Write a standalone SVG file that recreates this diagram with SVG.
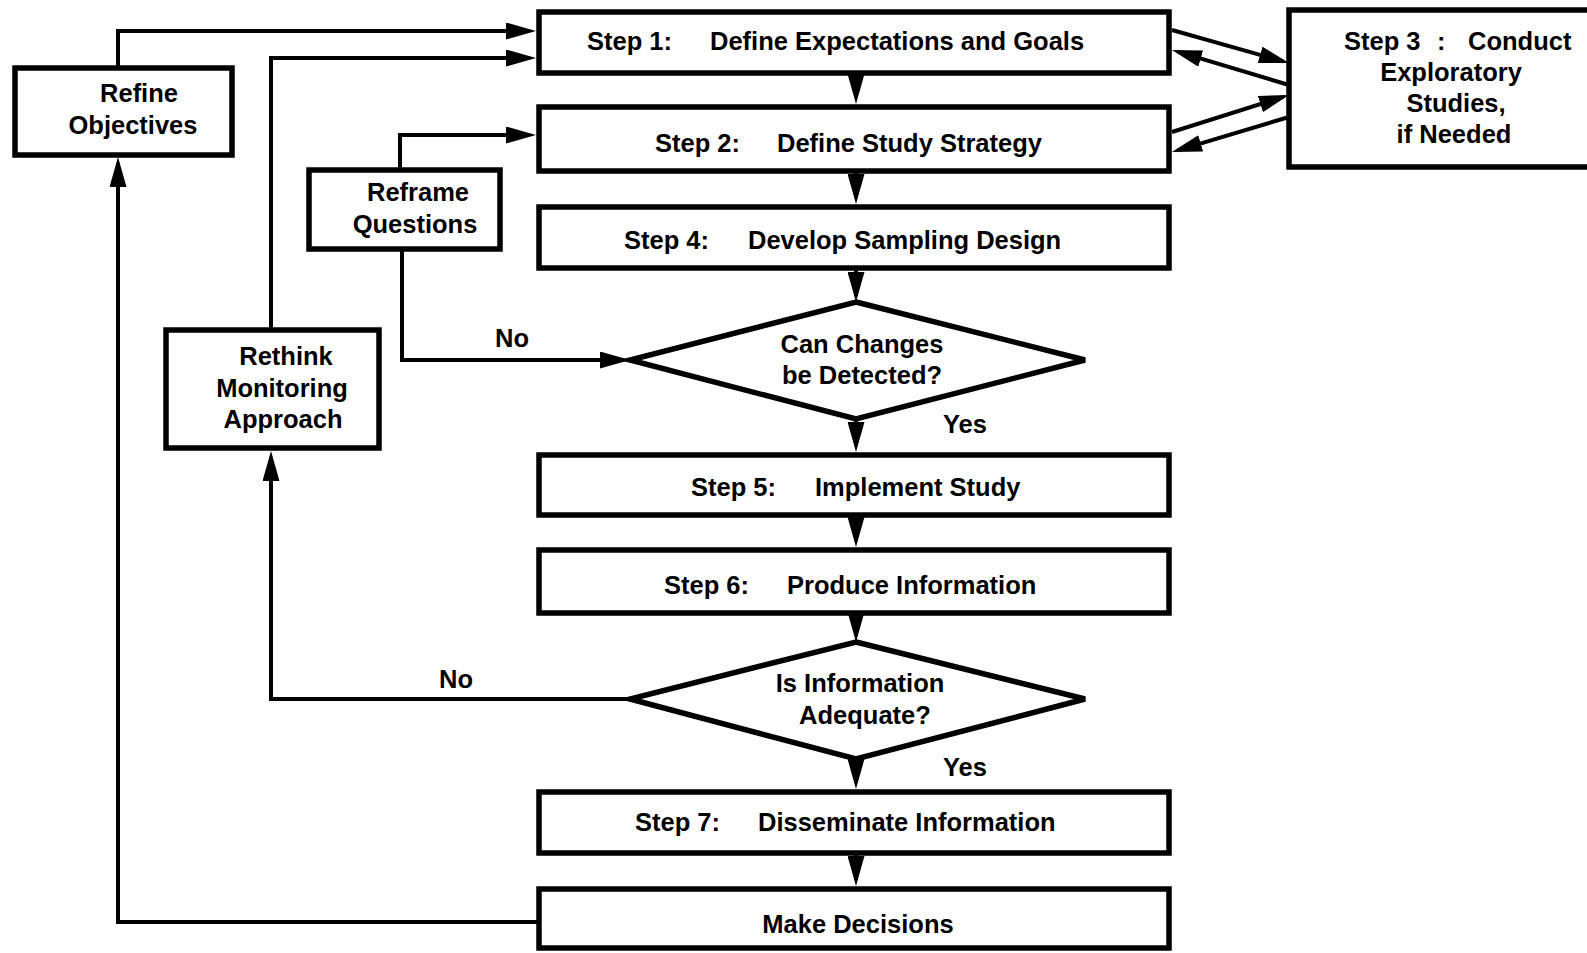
<svg xmlns="http://www.w3.org/2000/svg" width="1587" height="953" viewBox="0 0 1587 953">
<style>
.box{fill:#fff;stroke:#000;stroke-width:5.5}
.ln{fill:none;stroke:#000;stroke-width:4;marker-end:url(#ah)}
text{font-family:"Liberation Sans",Arial,sans-serif;font-weight:bold;font-size:25.5px;fill:#000}
.c{text-anchor:middle}
</style>
<defs>
<marker id="ah" markerUnits="userSpaceOnUse" markerWidth="30" markerHeight="17" viewBox="0 0 30 17" refX="24" refY="8.5" orient="auto">
<path d="M0,0 L30,8.5 L0,17 z" fill="#000"/>
</marker>
</defs>
<rect width="1587" height="953" fill="#fff"/>
<g id="connectors">
<path class="ln" d="M118,68 V31 H530"/>
<path class="ln" d="M271,328 V58 H530"/>
<path class="ln" d="M400,168 V135 H530"/>
<path class="ln" d="M402,250 V360 H624"/>
<path class="ln" d="M630,699 H271 V457"/>
<path class="ln" d="M538,922 H118 V163"/>
<path class="ln" d="M856,73 V98"/>
<path class="ln" d="M856,171 V198"/>
<path class="ln" d="M856,268 V296"/>
<path class="ln" d="M856,419 V446"/>
<path class="ln" d="M856,515 V541"/>
<path class="ln" d="M856,613 V636"/>
<path class="ln" d="M856,759 V783"/>
<path class="ln" d="M856,853 V880"/>
<path class="ln" d="M1172,30 L1283.2,61.4"/>
<path class="ln" d="M1289,85 L1177.7,51.7"/>
<path class="ln" d="M1172,132 L1283.3,96.8"/>
<path class="ln" d="M1289,117 L1177.7,150.3"/>
</g>
<g id="step1">
<rect class="box" x="539" y="12" width="630" height="61"/>
<text x="587" y="50">Step 1:</text>
<text x="710" y="50">Define Expectations and Goals</text>
</g>
<g id="step2">
<rect class="box" x="539" y="107" width="630" height="64"/>
<text x="655" y="152">Step 2:</text>
<text x="777" y="152">Define Study Strategy</text>
</g>
<g id="step3">
<rect class="box" x="1289" y="10" width="320" height="157"/>
<text x="1344" y="50">Step 3</text>
<text x="1437" y="50">:</text>
<text x="1468" y="50">Conduct</text>
<text class="c" x="1451" y="81">Exploratory</text>
<text class="c" x="1456" y="112">Studies,</text>
<text class="c" x="1454" y="143">if Needed</text>
</g>
<g id="step4">
<rect class="box" x="539" y="207" width="630" height="61"/>
<text x="624" y="249">Step 4:</text>
<text x="748" y="249">Develop Sampling Design</text>
</g>
<g id="decision1">
<polygon class="box" points="856,302 1085,360 856,419 630,360"/>
<text class="c" x="862" y="353">Can Changes</text>
<text class="c" x="862" y="384">be Detected?</text>
</g>
<g id="step5">
<rect class="box" x="539" y="455" width="630" height="60"/>
<text x="691" y="496">Step 5:</text>
<text x="815" y="496">Implement Study</text>
</g>
<g id="step6">
<rect class="box" x="539" y="550" width="630" height="63"/>
<text x="664" y="594">Step 6:</text>
<text x="787" y="594">Produce Information</text>
</g>
<g id="decision2">
<polygon class="box" points="856,642 1085,699 856,759 630,699"/>
<text class="c" x="860" y="692">Is Information</text>
<text class="c" x="865" y="724">Adequate?</text>
</g>
<g id="step7">
<rect class="box" x="539" y="792" width="630" height="61"/>
<text x="635" y="831">Step 7:</text>
<text x="758" y="831">Disseminate Information</text>
</g>
<g id="make-decisions">
<rect class="box" x="539" y="889" width="630" height="59"/>
<text class="c" x="858" y="933">Make Decisions</text>
</g>
<g id="refine-objectives">
<rect class="box" x="15" y="68" width="217" height="87"/>
<text class="c" x="139" y="102">Refine</text>
<text class="c" x="133" y="134">Objectives</text>
</g>
<g id="reframe-questions">
<rect class="box" x="309" y="170" width="191" height="79"/>
<text class="c" x="418" y="201">Reframe</text>
<text class="c" x="415" y="233">Questions</text>
</g>
<g id="rethink-monitoring">
<rect class="box" x="166" y="330" width="213" height="118"/>
<text class="c" x="286" y="365">Rethink</text>
<text class="c" x="282" y="397">Monitoring</text>
<text class="c" x="283" y="428">Approach</text>
</g>
<g id="labels">
<text class="c" x="512" y="347">No</text>
<text class="c" x="965" y="433">Yes</text>
<text class="c" x="456" y="688">No</text>
<text class="c" x="965" y="776">Yes</text>
</g>
</svg>
